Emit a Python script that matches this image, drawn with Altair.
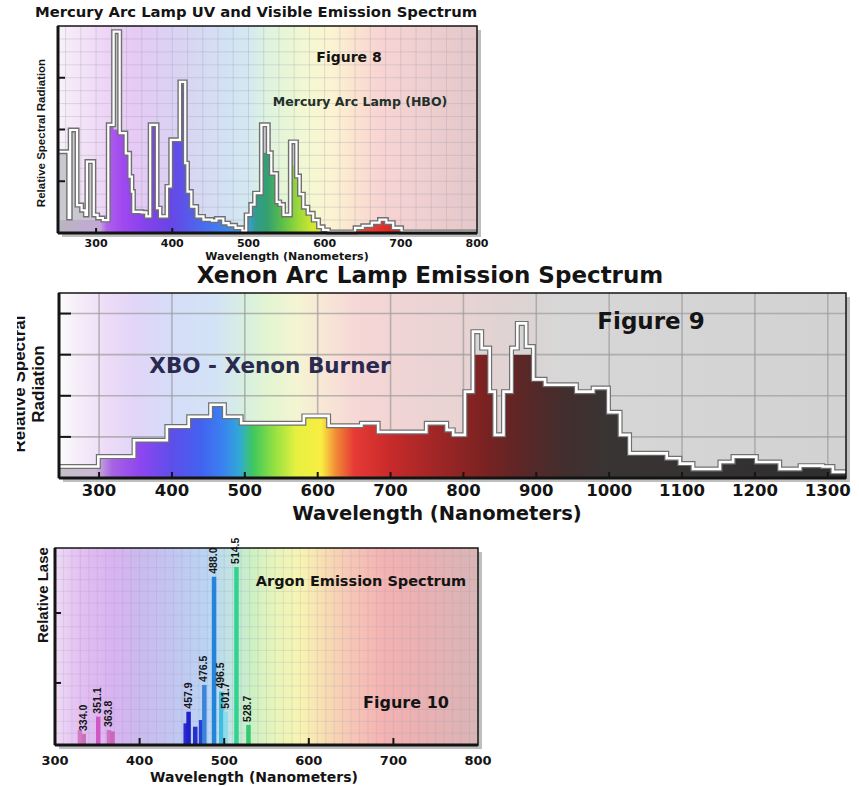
import altair as alt
import pandas as pd

# ---------------------------------------------------------------------------
# Mercury arc lamp (HBO): each step starts at HG_NM[i] (nm)
HG_NM = [250, 264, 266, 275, 281, 286, 288, 297, 302, 309,
         316, 323, 331, 339, 344, 347, 349, 360, 366, 371,
         380, 384, 393, 398, 410, 417, 420, 425, 432, 441,
         452, 458, 467, 474, 483, 492, 497, 503, 508, 517,
         526, 530, 537, 541, 546, 555, 563, 567, 572, 578,
         585, 592, 598, 605, 640, 650, 662, 672, 681, 690,
         701, 800]
# outline height (relative spectral radiation)
HG_VAL = [1.57, 0.29, 1.99, 0.54, 0.44, 0.35, 1.38, 0.35, 0.29, 0.25,
          2.09, 3.89, 1.93, 1.54, 1.09, 0.80, 0.41, 0.40, 0.32, 2.09,
          0.48, 0.32, 0.90, 1.80, 2.92, 1.35, 0.80, 0.51, 0.32, 0.26,
          0.24, 0.28, 0.19, 0.15, 0.10, 0.04, 0.35, 0.55, 0.77, 2.09,
          1.55, 1.15, 0.60, 0.55, 0.35, 1.76, 1.10, 0.75, 0.50, 0.38,
          0.25, 0.12, 0.06, 0.02, 0.10, 0.14, 0.20, 0.26, 0.20, 0.10,
          0.02, 0.02]
# height of the coloured body under the outline
HG_FILL = [0.25, 0.25, 0.25, 0.25, 0.25, 0.25, 0.25, 0.25, 0.25, 0.25,
           2.09, 2.00, 1.93, 1.54, 1.09, 0.80, 0.41, 0.40, 0.32, 2.09,
           0.48, 0.32, 0.90, 1.80, 2.92, 1.35, 0.80, 0.51, 0.32, 0.26,
           0.24, 0.28, 0.19, 0.15, 0.10, 0.04, 0.35, 0.55, 0.77, 1.55,
           1.55, 1.15, 0.60, 0.55, 0.35, 1.30, 1.10, 0.75, 0.50, 0.38,
           0.25, 0.12, 0.06, 0.02, 0.10, 0.14, 0.20, 0.26, 0.20, 0.10,
           0.02, 0.02]

# Xenon arc lamp (XBO)
XE_NM = [245, 299, 348, 393, 423, 453, 472, 495, 581, 615,
         660, 683, 749, 777, 786, 802, 813, 825, 836, 843,
         855, 866, 874, 886, 896, 912, 955, 978, 999, 1015,
         1028, 1079, 1097, 1115, 1152, 1170, 1202, 1234, 1262, 1293,
         1307, 1325]
XE_VAL = [0.28, 0.52, 0.92, 1.25, 1.49, 1.78, 1.49, 1.33, 1.51, 1.27,
          1.33, 1.12, 1.33, 1.17, 1.05, 2.10, 3.56, 3.16, 2.10, 1.05,
          2.10, 3.16, 3.76, 3.20, 2.40, 2.27, 2.10, 2.19, 1.60, 1.05,
          0.60, 0.48, 0.35, 0.22, 0.39, 0.52, 0.39, 0.22, 0.30, 0.28,
          0.15, 0.15]
XE_FILL = [0.28, 0.52, 0.92, 1.25, 1.49, 1.78, 1.49, 1.33, 1.51, 1.27,
           1.33, 1.12, 1.33, 1.17, 1.05, 2.10, 3.00, 3.00, 2.10, 1.05,
           2.10, 3.00, 3.00, 3.00, 2.40, 2.27, 2.10, 2.19, 1.60, 1.05,
           0.60, 0.48, 0.35, 0.22, 0.39, 0.52, 0.39, 0.22, 0.30, 0.28,
           0.15, 0.15]

# Argon ion laser lines (nm) and relative intensity (0-100)
AR_NM = [329.5, 334.0, 351.1, 363.8, 368.0, 454.5, 457.9, 465.8,
         472.7, 476.5, 488.0, 496.5, 501.7, 514.5, 528.7]
AR_VAL = [7.6, 5.6, 14.4, 7.6, 6.9, 11.0, 16.9, 9.3,
          12.7, 30.5, 85.4, 27.1, 16.9, 90.4, 10.2]
AR_LABELED = [334.0, 351.1, 363.8, 457.9, 476.5, 488.0, 496.5, 501.7, 514.5, 528.7]

# axis ticks / labels
HG_XLABELS = [300, 400, 500, 600, 700, 800]
HG_XTICKS = [300, 400]
HG_YTICKS = [1, 2, 3]
XE_XLABELS = [300, 400, 500, 600, 700, 800, 900, 1000, 1100, 1200, 1300]
XE_YTICKS = [1, 2, 3, 4]
AR_XLABELS = [300, 400, 500, 600, 700, 800]
AR_XTICKS = [400, 500, 600, 700]
AR_YTICKS = [31.5, 67]

# ---------------------------------------------------------------------------
# styles
CANVAS_W, CANVAS_H = 859, 786
BOLD = "DejaVu Sans"
NARROW = "Liberation Sans"
INK = "#141414"

HG_BG = [(250, "#f7f2f9"), (280, "#f3e4f7"), (310, "#eed6f7"), (350, "#e6caf5"),
         (390, "#ddd0f3"), (430, "#d7d8f3"), (470, "#d3e1f4"), (500, "#d3e9f0"),
         (520, "#dcf2e2"), (550, "#e8f6d6"), (580, "#f5f8d2"), (610, "#fcf3d2"),
         (640, "#fbe3cf"), (670, "#f8d5d3"), (720, "#f1d0d1"), (800, "#e3c7c9")]
HG_SPEC = [(250, "#b9b6c0"), (305, "#c2a8d8"), (314, "#b060ec"), (335, "#a048f0"),
           (365, "#8442ee"), (395, "#6a44e6"), (420, "#5858ea"), (450, "#4474f0"),
           (480, "#3a8cec"), (500, "#3a9ed8"), (510, "#2f9c8c"), (525, "#34a070"),
           (545, "#5cc048"), (565, "#9ad83a"), (585, "#d2e830"), (605, "#eccc34"),
           (625, "#ee8a34"), (650, "#e84436"), (690, "#e22424"), (800, "#c83030")]

XE_BG = [(245, "#fbfbfc"), (275, "#f5ebf9"), (310, "#eddcf8"), (350, "#e2d5f7"),
         (400, "#d5ddf8"), (460, "#d3e3f6"), (500, "#d8efe0"), (530, "#e2f5d2"),
         (570, "#f4f5d2"), (610, "#f8e6d6"), (650, "#f6d8d6"), (720, "#efd4d4"),
         (800, "#e8d3d3"), (880, "#ddd3d3"), (930, "#d8d7d7"), (1325, "#d2d2d2")]
XE_SPEC = [(245, "#c4c0c8"), (295, "#cbbad8"), (318, "#a862e2"), (355, "#8f46f0"),
           (400, "#5e4eea"), (440, "#4262f0"), (470, "#3a82f0"), (492, "#30a8d8"),
           (512, "#40c85c"), (540, "#92e042"), (570, "#e6f040"), (605, "#f8ee42"),
           (625, "#f28a36"), (650, "#e63a36"), (700, "#c82a2a"), (760, "#a22626"),
           (830, "#7a2222"), (880, "#5c2626"), (940, "#422e2e"), (1000, "#393434"),
           (1325, "#2e2e2e")]

AR_BG = [(300, "#eedbf5"), (330, "#e3bff2"), (370, "#d9b3f1"), (400, "#cbbaee"),
         (440, "#c2c6f1"), (480, "#bad5f4"), (510, "#c2e5e0"), (530, "#caf0c4"),
         (560, "#e8f5ba"), (590, "#f8f4b2"), (620, "#f8dcb2"), (650, "#f7c6b6"),
         (690, "#f4b2b2"), (740, "#e9b1b2"), (800, "#d9b5b6")]
AR_COLOR = {329.5: "#d27ac4", 334.0: "#cc70bc", 351.1: "#d058c4", 363.8: "#d070c0",
            368.0: "#c868b8", 454.5: "#2a2ad0", 457.9: "#2020c8", 465.8: "#2430c8",
            472.7: "#2840d4", 476.5: "#3a84dc", 488.0: "#2484dc", 496.5: "#40bce0",
            501.7: "#8cdcec", 514.5: "#30d48c", 528.7: "#34c870"}

ONE = pd.DataFrame({"k": [0]})


def gradient(stops, lo, hi):
    return alt.LinearGradient(
        gradient="linear", x1=0, x2=1, y1=0, y2=0,
        stops=[alt.GradientStop(offset=round((nm - lo) / (hi - lo), 4), color=c)
               for nm, c in stops],
    )


class Frame:
    """Pixel placement of one spectrum panel on the shared canvas."""

    def __init__(self, xdom, xrng, ydom, yrng):
        self.xdom, self.xrng, self.ydom, self.yrng = xdom, xrng, ydom, yrng
        self.xs = alt.Scale(domain=xdom, range=xrng, nice=False, zero=False)
        self.ys = alt.Scale(domain=ydom, range=yrng, nice=False, zero=False)

    def xq(self, field):
        return alt.X(field, type="quantitative", scale=self.xs, axis=None)

    def yq(self, field):
        return alt.Y(field, type="quantitative", scale=self.ys, axis=None)

    def xd(self, v):
        return alt.XDatum(datum=v, type="quantitative", scale=self.xs, axis=None)

    def yd(self, v):
        return alt.YDatum(datum=v, type="quantitative", scale=self.ys, axis=None)

    def backdrop(self, bg, gx, gy, gcolor, gopacity, gwidth):
        x0, x1 = self.xdom
        y0, y1 = self.ydom
        shadow = alt.Chart(ONE).mark_rect(
            color="#6e6e6e", opacity=0.45, xOffset=4, x2Offset=4, yOffset=4, y2Offset=4
        ).encode(x=self.xd(x0), x2=alt.X2Datum(datum=x1),
                 y=self.yd(y0), y2=alt.Y2Datum(datum=y1))
        back = alt.Chart(ONE).mark_rect(fill=gradient(bg, x0, x1)).encode(
            x=self.xd(x0), x2=alt.X2Datum(datum=x1),
            y=self.yd(y0), y2=alt.Y2Datum(datum=y1))
        vgrid = alt.Chart(pd.DataFrame({"g": gx})).mark_rule(
            color=gcolor, opacity=gopacity, strokeWidth=gwidth
        ).encode(x=self.xq("g"), y=self.yd(y0), y2=alt.Y2Datum(datum=y1))
        hgrid = alt.Chart(pd.DataFrame({"g": gy})).mark_rule(
            color=gcolor, opacity=gopacity, strokeWidth=gwidth
        ).encode(y=self.yq("g"), x=self.xd(x0), x2=alt.X2Datum(datum=x1))
        return [shadow, back, vgrid, hgrid]

    def border(self, xticks, xlen, yticks, ylen):
        x0, x1 = self.xdom
        y0, y1 = self.ydom
        bottom_px = self.yrng[0]
        left_px = self.xrng[0]
        xt = alt.Chart(pd.DataFrame({"t": xticks})).mark_rule(
            color=INK, strokeWidth=2
        ).encode(x=self.xq("t"), y=alt.value(bottom_px), y2=alt.value(bottom_px - xlen))
        yt = alt.Chart(pd.DataFrame({"t": yticks})).mark_rule(
            color=INK, strokeWidth=2
        ).encode(y=self.yq("t"), x=alt.value(left_px), x2=alt.value(left_px + ylen))
        box = alt.Chart(ONE).mark_rect(
            fill="white", fillOpacity=0, stroke=INK, strokeWidth=1.5
        ).encode(x=self.xd(x0), x2=alt.X2Datum(datum=x1),
                 y=self.yd(y0), y2=alt.Y2Datum(datum=y1))
        left = alt.Chart(ONE).mark_rule(color=INK, strokeWidth=3).encode(
            x=self.xd(x0), y=self.yd(y0), y2=alt.Y2Datum(datum=y1))
        base = alt.Chart(ONE).mark_rule(color=INK, strokeWidth=3).encode(
            x=self.xd(x0), x2=alt.X2Datum(datum=x1), y=self.yd(y0))
        return [xt, yt, box, left, base]

    def tick_labels(self, values, y, size, title_x, title_y, title_size):
        """Wavelength labels placed through the x scale, plus the axis title."""
        labels = alt.Chart(pd.DataFrame({"t": values})).mark_text(
            font=BOLD, fontWeight="bold", fontSize=size, color=INK, baseline="middle"
        ).encode(x=self.xq("t"), y=alt.value(y), text=alt.Text("t:Q", format="d"))
        title = alt.Chart(ONE).mark_text(
            text="Wavelength (Nanometers)", font=BOLD, fontWeight="bold",
            fontSize=title_size, color=INK, baseline="middle"
        ).encode(x=alt.value(title_x), y=alt.value(title_y))
        return [labels, title]


def step_spectrum(fr, nm, val, fill, spec, glass, edge_w, line_w):
    prof = pd.DataFrame({"nm": nm, "v": val, "f": fill})
    x0, x1 = fr.xdom
    glass_area = alt.Chart(prof).mark_area(
        interpolate="step-after", color=glass, opacity=0.9
    ).encode(x=fr.xq("nm"), y=fr.yq("v"), y2=alt.Y2Datum(datum=0))
    body = alt.Chart(prof).mark_area(
        interpolate="step-after", fill=gradient(spec, x0, x1)
    ).encode(x=fr.xq("nm"), y=fr.yq("f"), y2=alt.Y2Datum(datum=0))
    edge = alt.Chart(prof).mark_line(
        interpolate="step-after", color="#707070", strokeWidth=edge_w
    ).encode(x=fr.xq("nm"), y=fr.yq("v"))
    core = alt.Chart(prof).mark_line(
        interpolate="step-after", color="white", strokeWidth=line_w
    ).encode(x=fr.xq("nm"), y=fr.yq("v"))
    return [glass_area, body, edge, core]


def text(t, x, y, size, font=BOLD, color=INK, angle=0, align="center",
         baseline="middle"):
    kw = dict(text=t, font=font, fontSize=size, fontWeight="bold", color=color,
              align=align, baseline=baseline)
    if angle:
        kw["angle"] = angle
    return alt.Chart(ONE).mark_text(**kw).encode(x=alt.value(x), y=alt.value(y))


def blank(x, x2, y, y2):
    return alt.Chart(ONE).mark_rect(color="white").encode(
        x=alt.value(x), x2=alt.value(x2), y=alt.value(y), y2=alt.value(y2))


# --- Mercury panel ----------------------------------------------------------
hg = Frame([250, 800], [58, 477], [0, 4], [233, 26])
hg_layers = (
    hg.backdrop(HG_BG, list(range(260, 800, 20)), [k * 0.25 for k in range(1, 16)],
                "#9a9aac", 0.3, 1)
    + step_spectrum(hg, HG_NM, HG_VAL, HG_FILL, HG_SPEC, "#c4c4ca", 5, 2.2)
    + hg.border(HG_XTICKS, 5, HG_YTICKS, 7)
    + hg.tick_labels(HG_XLABELS, 243.5, 11, 287, 257, 11)
)
mercury = alt.layer(*hg_layers)

# --- Xenon panel ------------------------------------------------------------
xe = Frame([245, 1325], [59, 846], [0, 4.5], [478, 293])
xe_layers = (
    xe.backdrop(XE_BG, list(range(300, 1301, 100)), [1, 2, 3, 4], "#9c9c9c", 0.7, 1.6)
    + step_spectrum(xe, XE_NM, XE_VAL, XE_FILL, XE_SPEC, "#d6d6d6", 5, 2.6)
    + xe.border(XE_XLABELS, 6, XE_YTICKS, 12)
    + xe.tick_labels(XE_XLABELS, 491, 16.5, 437, 513.5, 19.5)
)
xenon = alt.layer(*xe_layers)

# --- Argon panel ------------------------------------------------------------
ar = Frame([300, 800], [55, 478], [0, 100], [745, 548])
lines = pd.DataFrame({"nm": AR_NM, "v": AR_VAL})
lines["c"] = lines["nm"].map(AR_COLOR)
lines["lab"] = [f"{n:.1f}" if n in AR_LABELED else "" for n in AR_NM]
ar_bars = alt.Chart(lines).mark_rule(strokeWidth=4.5).encode(
    x=ar.xq("nm"), y=ar.yq("v"), y2=alt.Y2Datum(datum=0),
    color=alt.Color("c:N", scale=None),
)
ar_labels = alt.Chart(lines).mark_text(
    angle=270, align="left", baseline="middle", dx=3, font=NARROW,
    fontWeight="bold", fontSize=10.5, color=INK,
).encode(x=ar.xq("nm"), y=ar.yq("v"), text="lab:N")
ar_layers = (
    ar.backdrop(AR_BG, list(range(310, 800, 10)), list(range(6, 100, 6)),
                "#9a9ab4", 0.22, 1)
    + [ar_bars, ar_labels]
    + ar.border(AR_XTICKS, 7, AR_YTICKS, 6)
    + ar.tick_labels(AR_XLABELS, 761, 13, 254, 777.5, 14)
)
argon = alt.layer(*ar_layers)

# --- titles and annotations --------------------------------------------------
notes = [
    text("Mercury Arc Lamp UV and Visible Emission Spectrum", 35, 13, 14.8, align="left"),
    text("Relative Spectral Radiation", 42, 133, 11.5, font=NARROW, angle=270),
    text("Figure 8", 349, 58, 14),
    text("Mercury Arc Lamp (HBO)", 360, 102, 12.5, color="#22302a"),
    text("Xenon Arc Lamp Emission Spectrum", 430, 275.5, 23),
    text("Relative Spectral", 19.5, 384, 17, font=NARROW, angle=270),
    text("Radiation", 38.5, 384, 17, font=NARROW, angle=270),
    text("Figure 9", 651, 322, 23),
    text("XBO - Xenon Burner", 270, 367, 21.5, color="#2a2a50"),
    text("Relative Laser", 43, 643, 15, font=NARROW, angle=270, align="left"),
    text("Argon Emission Spectrum", 361, 582, 14.5),
    text("Figure 10", 406, 703, 16),
    blank(0, 17, 300, 470),
    blank(28, 56, 515, 547),
]

chart = (
    alt.layer(mercury, xenon, argon, *notes)
    .resolve_scale(x="independent", y="independent")
    .properties(width=CANVAS_W, height=CANVAS_H,
                autosize=alt.AutoSizeParams(type="none"), padding=0,
                background="white")
    .configure_view(stroke=None)
)

chart.save("out.html", embed_options={"renderer": "svg", "actions": False})
